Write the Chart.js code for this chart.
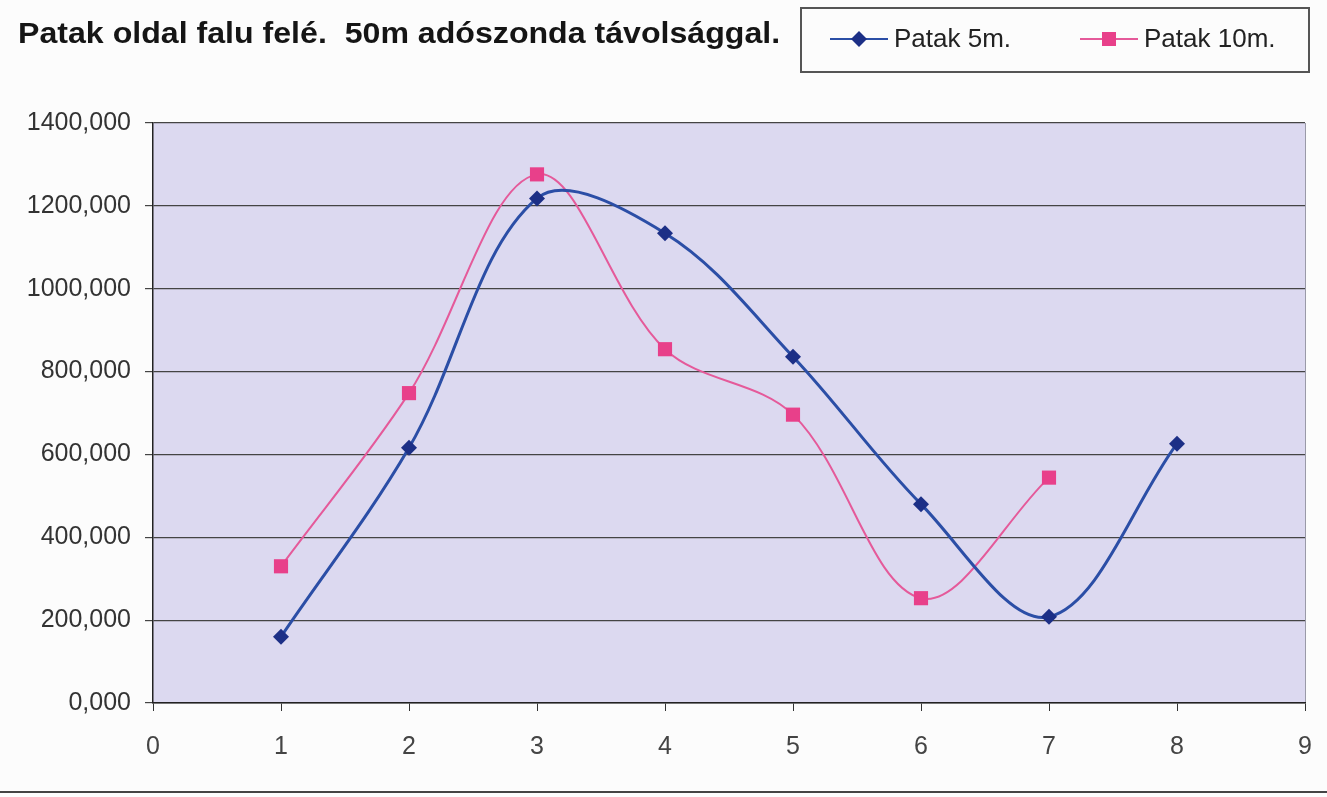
<!DOCTYPE html>
<html>

<head>
    <title>Patak oldal falu felé</title>
    <meta charset="UTF-8">
    <script src="https://cdn.jsdelivr.net/npm/chart.js@4.4.1/dist/chart.umd.min.js"></script>
    <style>
        body { margin: 0; background: #fcfcfc; font-family: Arial, "Liberation Sans", sans-serif; }
        #wrap { position: relative; width: 1327px; height: 797px; }
        #title { position: absolute; left: 18px; top: 17px; font-size: 29px; font-weight: bold; color: #151515; white-space: pre; transform-origin: left top; }
        #legend { position: absolute; left: 800px; top: 7px; width: 510px; height: 66px; border: 2px solid #555; box-sizing: border-box; }
        .item { position: absolute; top: 14px; font-size: 26px; color: #222; white-space: nowrap; }
        .item svg { vertical-align: -2px; margin-right: 6px; }
        #bottomline { position: absolute; left: 0; top: 791px; width: 1327px; height: 2px; background: #444; }
        canvas { position: absolute; left: 0; top: 0; }
    </style>
</head>

<body>
    <div id="wrap">
        <canvas id="myChart" width="1327" height="797"></canvas>
        <div id="title">Patak oldal falu felé.  50m adószonda távolsággal.</div>
        <div id="legend">
            <div class="item" style="left:28px"><svg width="58" height="20"><line x1="0" y1="10" x2="58" y2="10" stroke="#2b4ea6" stroke-width="2"/><polygon points="29,2 37,10 29,18 21,10" fill="#1c2f86"/></svg>Patak 5m.</div>
            <div class="item" style="left:278px"><svg width="58" height="20"><line x1="0" y1="10" x2="58" y2="10" stroke="#e55a9a" stroke-width="2"/><rect x="22" y="3" width="14" height="14" fill="#e8408a"/></svg>Patak 10m.</div>
        </div>
        <div id="bottomline"></div>
    </div>

    <script>
        // values
        const xValues = [1, 2, 3, 4, 5, 6, 7, 8];
        const patak5 = [160, 616, 1218, 1134, 836, 480, 208, 626];
        const patak10 = [330, 748, 1276, 854, 696, 253, 544];
        const xTicks = [0, 1, 2, 3, 4, 5, 6, 7, 8, 9];
        const yTicks = [0, 200, 400, 600, 800, 1000, 1200, 1400];

        // the scanned title is a little wider than plain Arial, stretch it to fit
        const title = document.getElementById('title');
        title.style.transform = 'scaleX(' + (762 / title.offsetWidth) + ')';

        function toPoints(ys) {
            return ys.map((y, i) => ({ x: xValues[i], y: y }));
        }

        // lavender plot area + grey right edge
        const plotBg = {
            id: 'plotBg',
            beforeDraw(chart) {
                const a = chart.chartArea, ctx = chart.ctx;
                ctx.save();
                ctx.fillStyle = '#dcd9f0';
                ctx.fillRect(a.left, a.top, a.right - a.left, a.bottom - a.top);
                ctx.strokeStyle = '#9a9aa8';
                ctx.lineWidth = 1;
                ctx.beginPath();
                ctx.moveTo(a.right + 0.5, a.top);
                ctx.lineTo(a.right + 0.5, a.bottom);
                ctx.stroke();
                ctx.restore();
            }
        };

        const tickFont = { family: 'Arial, "Liberation Sans", sans-serif', size: 25 };

        const ctx = document.getElementById('myChart').getContext('2d');
        const chart = new Chart(ctx, {
            type: 'line',
            data: {
                datasets: [{
                    label: 'Patak 5m.',
                    data: toPoints(patak5),
                    borderColor: '#2b4ea6',
                    borderWidth: 3,
                    backgroundColor: '#1c2f86',
                    pointBackgroundColor: '#1c2f86',
                    pointBorderWidth: 0,
                    pointStyle: 'rectRot',
                    pointRadius: 8,
                    tension: 0.35
                }, {
                    label: 'Patak 10m.',
                    data: toPoints(patak10),
                    borderColor: '#e55a9a',
                    borderWidth: 2,
                    backgroundColor: '#e8408a',
                    pointBackgroundColor: '#e8408a',
                    pointBorderWidth: 0,
                    pointStyle: 'rect',
                    pointRadius: 10,
                    tension: 0.35
                }]
            },
            options: {
                responsive: false,
                animation: false,
                layout: { padding: { top: 123, right: 22, left: 0, bottom: 0 } },
                plugins: {
                    legend: { display: false },
                    tooltip: { enabled: false }
                },
                scales: {
                    x: {
                        type: 'linear',
                        min: 0,
                        max: 9,
                        afterFit: s => { s.height = 94; s.paddingLeft = 0; s.paddingRight = 0; },
                        afterBuildTicks: s => { s.ticks = xTicks.map(v => ({ value: v })); },
                        ticks: { font: tickFont, color: '#444', padding: 21 },
                        grid: { drawOnChartArea: false, drawTicks: true, tickLength: 8, color: '#333' },
                        border: { color: '#222', width: 1.5 }
                    },
                    y: {
                        min: 0,
                        max: 1400,
                        afterFit: s => { s.width = 153; },
                        afterBuildTicks: s => { s.ticks = yTicks.map(v => ({ value: v })); },
                        ticks: {
                            font: tickFont,
                            color: '#333',
                            padding: 14,
                            callback: v => v.toFixed(3).replace('.', ',')
                        },
                        grid: { color: '#444', lineWidth: 1.2, tickLength: 8 },
                        border: { color: '#222', width: 1.5 }
                    }
                }
            },
            plugins: [plotBg]
        });
    </script>

</body>

</html>
